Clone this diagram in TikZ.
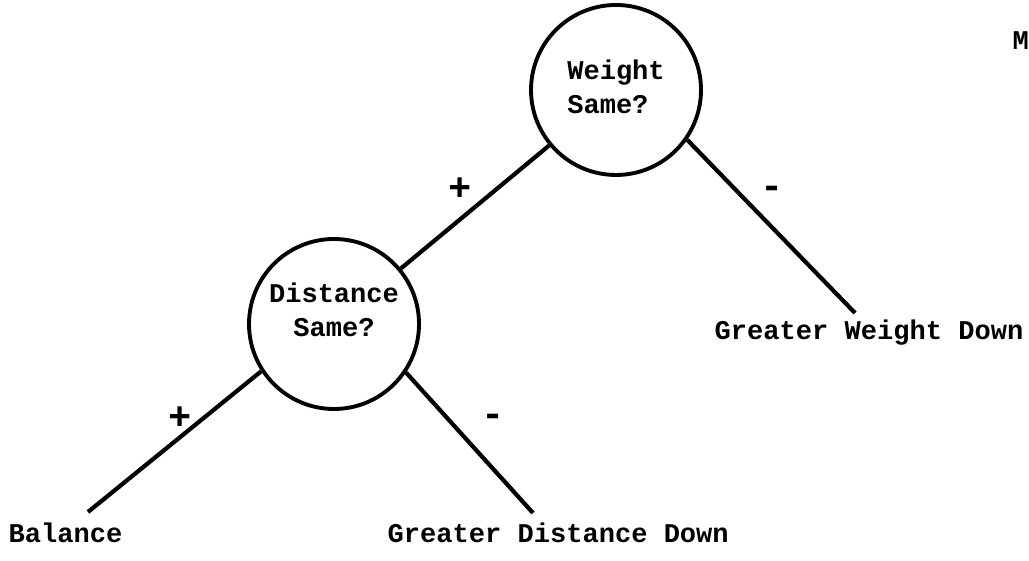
\documentclass[tikz,border=0pt]{standalone}
\usepackage{fontspec}
\setmonofont{Liberation Mono}
\tikzset{
  qcircle/.style={draw, circle, line width=1.1pt, minimum size=1.70cm, inner sep=0pt},
  leaf/.style={anchor=base west, inner sep=0pt},
  sign/.style={inner sep=0pt, font=\ttfamily\bfseries\fontsize{11}{11}\selectfont},
  branch/.style={line width=1.2pt}
}
\begin{document}
\begin{tikzpicture}[font=\ttfamily\bfseries\fontsize{7.7}{9.7}\selectfont]
  \useasboundingbox (0,0) rectangle (10.29,5.61);

  % Question nodes
  \node[qcircle] (weight) at (6.16,4.71)
    {\raisebox{0.2cm}{\begin{tabular}{@{}l@{}}Weight\\Same?\end{tabular}}};
  \node[qcircle] (dist) at (3.34,2.37)
    {\raisebox{0.5cm}{\begin{tabular}{@{}c@{}}Distance\\Same?\end{tabular}}};

  % Free ends of the branches
  \coordinate (balend) at (0.88,0.49);
  \coordinate (gddend) at (5.33,0.48);
  \coordinate (gwdend) at (8.55,2.48);

  \draw[branch] (weight) -- (dist);
  \draw[branch] (weight.-35) -- (gwdend);
  \draw[branch] (dist.213) -- (balend);
  \draw[branch] (dist.-34) -- (gddend);

  % Outcomes
  \node[leaf] (bal) at (0.08,0.18) {Balance};
  \node[leaf] (gdd) at (3.87,0.18) {Greater Distance Down};
  \node[leaf] (gwd) at (7.14,2.21) {Greater Weight Down};

  % Signs
  \node[sign] (p1) at (4.60,3.72) {+};
  \node[sign] (m1) at (7.72,3.69) {-};
  \node[sign] (p2) at (1.80,1.43) {+};
  \node[sign] (m2) at (4.93,1.41) {-};

  % Cut-off letter at the edge
  \node[leaf] (cut) at (10.12,5.11) {M};
\end{tikzpicture}
\end{document}
